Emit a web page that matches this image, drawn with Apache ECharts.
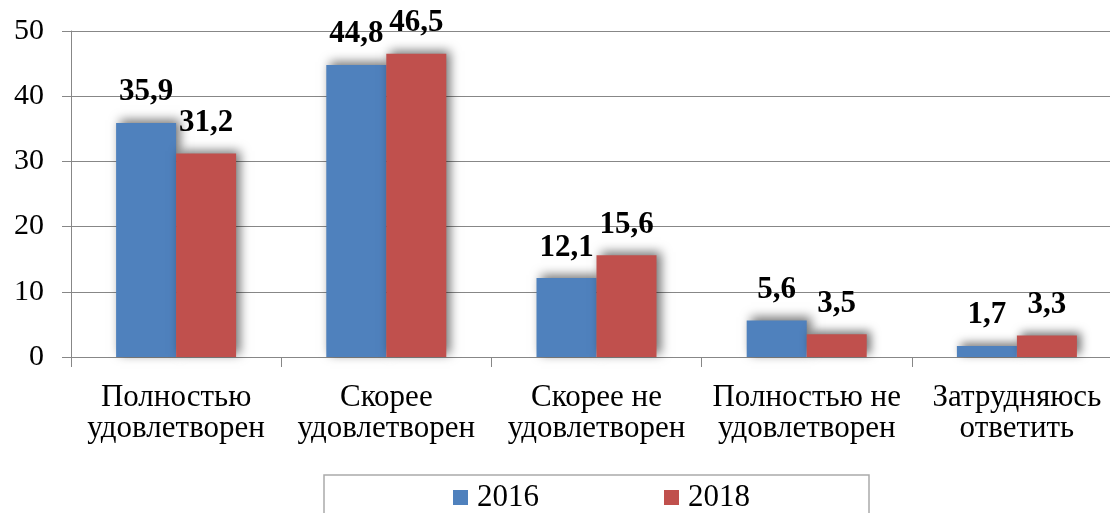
<!DOCTYPE html>
<html>
<head>
<meta charset="utf-8">
<script src="https://cdn.jsdelivr.net/npm/echarts@6/dist/echarts.min.js"></script>
<style>
html,body{margin:0;padding:0;background:#fff;}
#chart{width:1110px;height:513px;}
</style>
</head>
<body>
<div id="chart"></div>
<script>
var categories = ['Полностью\nудовлетворен', 'Скорее\nудовлетворен', 'Скорее не\nудовлетворен', 'Полностью не\nудовлетворен', 'Затрудняюсь\nответить'];
var seriesNames = ['2016', '2018'];
var values2016 = [35.9, 44.8, 12.1, 5.6, 1.7];
var values2018 = [31.2, 46.5, 15.6, 3.5, 3.3];
var yTicks = {min: 0, max: 50, interval: 10};

var FONT = "'Times New Roman', 'Liberation Serif', serif";
var chart = echarts.init(document.getElementById('chart'));

function barSeries(name, data, color) {
  return {
    name: name,
    type: 'bar',
    data: data,
    barWidth: 60,
    barGap: '0%',
    itemStyle: {
      color: color,
      shadowColor: 'rgba(0,0,0,0.55)',
      shadowBlur: 10,
      shadowOffsetX: 4,
      shadowOffsetY: -3
    },
    label: {
      show: true,
      position: 'top',
      distance: 15,
      fontFamily: FONT,
      fontSize: 31,
      fontWeight: 'bold',
      color: '#000',
      formatter: function (p) { return String(p.value).replace('.', ','); }
    }
  };
}

chart.setOption({
  animation: false,
  backgroundColor: '#fff',
  grid: {left: 71, top: 31, bottom: 156, right: -12, containLabel: false, outerBoundsMode: 'none'},
  legend: {
    data: seriesNames,
    left: 324,
    top: 475,
    icon: 'rect',
    itemWidth: 15,
    itemHeight: 15,
    itemGap: 125,
    padding: [7, 119, 30, 129],
    borderColor: '#aaaaaa',
    borderWidth: 1.5,
    textStyle: {fontFamily: FONT, fontSize: 31, color: '#000', padding: [0, 0, 0, 4]}
  },
  xAxis: {
    type: 'category',
    data: categories,
    axisLine: {lineStyle: {color: '#878787', width: 1}},
    axisTick: {show: true, length: 10, interval: 0, lineStyle: {color: '#878787'}},
    axisLabel: {interval: 0, fontFamily: FONT, fontSize: 31, lineHeight: 31, color: '#000', margin: 25}
  },
  yAxis: {
    type: 'value',
    min: yTicks.min,
    max: yTicks.max,
    interval: yTicks.interval,
    axisLine: {show: true, lineStyle: {color: '#878787', width: 1}},
    axisTick: {show: true, length: 9, lineStyle: {color: '#878787'}},
    splitLine: {show: true, lineStyle: {color: '#878787', width: 1}},
    axisLabel: {fontFamily: FONT, fontSize: 30, color: '#000', margin: 27}
  },
  series: [
    barSeries(seriesNames[0], values2016, '#4F81BD'),
    barSeries(seriesNames[1], values2018, '#C0504D')
  ]
});
</script>
</body>
</html>
